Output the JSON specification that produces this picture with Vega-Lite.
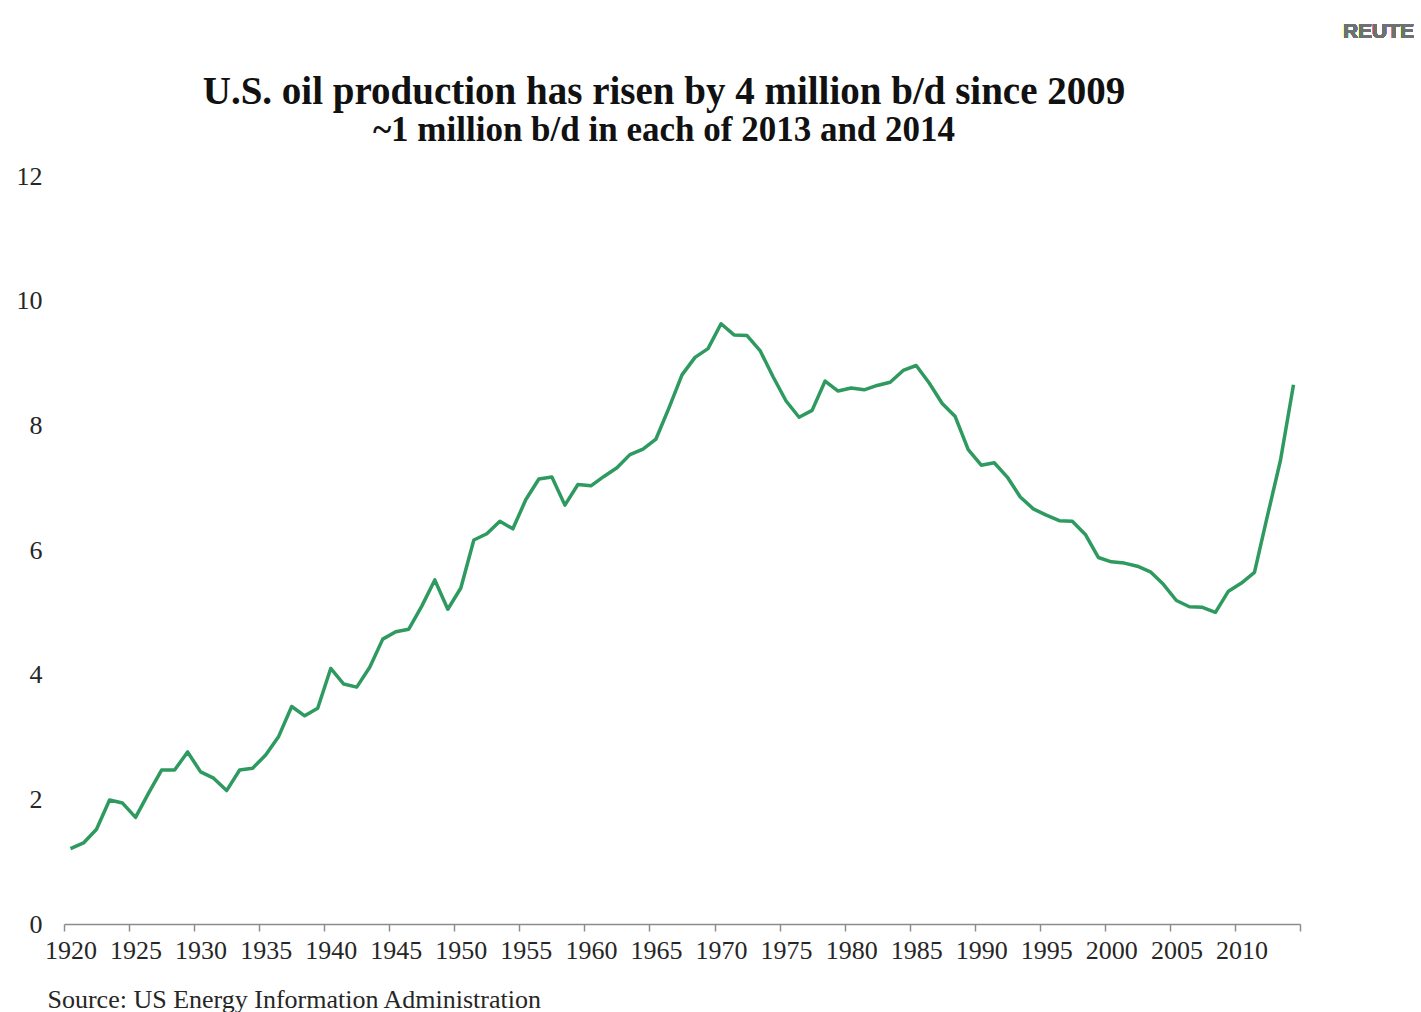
{
  "$schema": "https://vega.github.io/schema/vega-lite/v6.json",
  "width": 1236,
  "height": 748,
  "autosize": {"type": "none"},
  "padding": {"left": 64, "top": 176, "right": 121, "bottom": 88},
  "background": "white",
  "config": {"view": {"stroke": null}},
  "title": {
    "text": "U.S. oil production has risen by 4 million b/d since 2009",
    "subtitle": "~1 million b/d in each of 2013 and 2014",
    "font": "Liberation Serif",
    "fontSize": 39,
    "fontWeight": "bold",
    "color": "#111111",
    "subtitleFont": "Liberation Serif",
    "subtitleFontSize": 35,
    "subtitleFontWeight": "bold",
    "subtitleColor": "#111111",
    "subtitlePadding": 1,
    "anchor": "middle",
    "dx": -18,
    "offset": -127
  },
  "data": {"values": [
    {"year": 1920, "production": 1.21}, {"year": 1921, "production": 1.30}, {"year": 1922, "production": 1.52},
    {"year": 1923, "production": 1.99}, {"year": 1924, "production": 1.94}, {"year": 1925, "production": 1.71},
    {"year": 1926, "production": 2.10}, {"year": 1927, "production": 2.47}, {"year": 1928, "production": 2.47},
    {"year": 1929, "production": 2.76}, {"year": 1930, "production": 2.44}, {"year": 1931, "production": 2.34},
    {"year": 1932, "production": 2.14}, {"year": 1933, "production": 2.47}, {"year": 1934, "production": 2.50},
    {"year": 1935, "production": 2.71}, {"year": 1936, "production": 3.01}, {"year": 1937, "production": 3.49},
    {"year": 1938, "production": 3.34}, {"year": 1939, "production": 3.46}, {"year": 1940, "production": 4.10},
    {"year": 1941, "production": 3.85}, {"year": 1942, "production": 3.80}, {"year": 1943, "production": 4.12},
    {"year": 1944, "production": 4.57}, {"year": 1945, "production": 4.69}, {"year": 1946, "production": 4.73},
    {"year": 1947, "production": 5.10}, {"year": 1948, "production": 5.52}, {"year": 1949, "production": 5.05},
    {"year": 1950, "production": 5.39}, {"year": 1951, "production": 6.16}, {"year": 1952, "production": 6.26},
    {"year": 1953, "production": 6.46}, {"year": 1954, "production": 6.34}, {"year": 1955, "production": 6.81},
    {"year": 1956, "production": 7.14}, {"year": 1957, "production": 7.17}, {"year": 1958, "production": 6.72},
    {"year": 1959, "production": 7.05}, {"year": 1960, "production": 7.03}, {"year": 1961, "production": 7.18},
    {"year": 1962, "production": 7.32}, {"year": 1963, "production": 7.53}, {"year": 1964, "production": 7.62},
    {"year": 1965, "production": 7.78}, {"year": 1966, "production": 8.28}, {"year": 1967, "production": 8.81},
    {"year": 1968, "production": 9.09}, {"year": 1969, "production": 9.23}, {"year": 1970, "production": 9.63},
    {"year": 1971, "production": 9.45}, {"year": 1972, "production": 9.44}, {"year": 1973, "production": 9.20},
    {"year": 1974, "production": 8.78}, {"year": 1975, "production": 8.39}, {"year": 1976, "production": 8.13},
    {"year": 1977, "production": 8.24}, {"year": 1978, "production": 8.71}, {"year": 1979, "production": 8.55},
    {"year": 1980, "production": 8.60}, {"year": 1981, "production": 8.57}, {"year": 1982, "production": 8.64},
    {"year": 1983, "production": 8.69}, {"year": 1984, "production": 8.88}, {"year": 1985, "production": 8.96},
    {"year": 1986, "production": 8.68}, {"year": 1987, "production": 8.35}, {"year": 1988, "production": 8.14},
    {"year": 1989, "production": 7.61}, {"year": 1990, "production": 7.36}, {"year": 1991, "production": 7.40},
    {"year": 1992, "production": 7.17}, {"year": 1993, "production": 6.85}, {"year": 1994, "production": 6.66},
    {"year": 1995, "production": 6.56}, {"year": 1996, "production": 6.47}, {"year": 1997, "production": 6.46},
    {"year": 1998, "production": 6.25}, {"year": 1999, "production": 5.88}, {"year": 2000, "production": 5.81},
    {"year": 2001, "production": 5.79}, {"year": 2002, "production": 5.74}, {"year": 2003, "production": 5.65},
    {"year": 2004, "production": 5.45}, {"year": 2005, "production": 5.19}, {"year": 2006, "production": 5.09},
    {"year": 2007, "production": 5.08}, {"year": 2008, "production": 5.00}, {"year": 2009, "production": 5.34},
    {"year": 2010, "production": 5.47}, {"year": 2011, "production": 5.64}, {"year": 2012, "production": 6.55},
    {"year": 2013, "production": 7.44}, {"year": 2014, "production": 8.65}
  ]},
  "layer": [
    {
      "mark": {"type": "line", "color": "#2e9a60", "strokeWidth": 3.5, "strokeJoin": "round"},
      "encoding": {
        "x": {
          "field": "year", "type": "quantitative",
          "scale": {"domain": [1919.5, 2014.5], "nice": false, "zero": false},
          "axis": {
            "values": [1919.5, 1924.5, 1929.5, 1934.5, 1939.5, 1944.5, 1949.5, 1954.5, 1959.5, 1964.5, 1969.5, 1974.5, 1979.5, 1984.5, 1989.5, 1994.5, 1999.5, 2004.5, 2009.5, 2014.5],
            "labelExpr": "datum.value < 2014 ? format(datum.value + 0.5, 'd') : ''",
            "labelOffset": 6.5,
            "labelFlush": false,
            "labelOverlap": false,
            "labelFont": "Liberation Serif",
            "labelFontSize": 26,
            "labelColor": "#262626",
            "labelBaseline": "top",
            "labelPadding": 6,
            "grid": false,
            "domainColor": "#8c8c8c",
            "domainWidth": 1.5,
            "tickColor": "#8c8c8c",
            "tickWidth": 1.5,
            "tickSize": 7,
            "title": "Source: US Energy Information Administration",
            "titleFont": "Liberation Serif",
            "titleFontSize": 26,
            "titleFontWeight": "normal",
            "titleColor": "#262626",
            "titleAnchor": "start",
            "titleAlign": "left",
            "titleBaseline": "alphabetic",
            "titleX": -17,
            "titleY": 83
          }
        },
        "y": {
          "field": "production", "type": "quantitative",
          "scale": {"domain": [0, 12], "nice": false},
          "axis": {
            "values": [0, 2, 4, 6, 8, 10, 12],
            "format": "d",
            "domain": false,
            "ticks": false,
            "grid": false,
            "labelFont": "Liberation Serif",
            "labelFontSize": 26,
            "labelColor": "#262626",
            "labelPadding": 22,
            "title": null
          }
        }
      }
    },
    {
      "mark": {"type": "text", "font": "Liberation Sans", "fontWeight": "bold", "fontSize": 21, "color": "#707070", "align": "left", "baseline": "middle"},
      "encoding": {
        "x": {"datum": 2017.8, "type": "quantitative"},
        "y": {"datum": 14.31, "type": "quantitative"},
        "text": {"value": "REUTE"}
      }
    }
  ]
}
